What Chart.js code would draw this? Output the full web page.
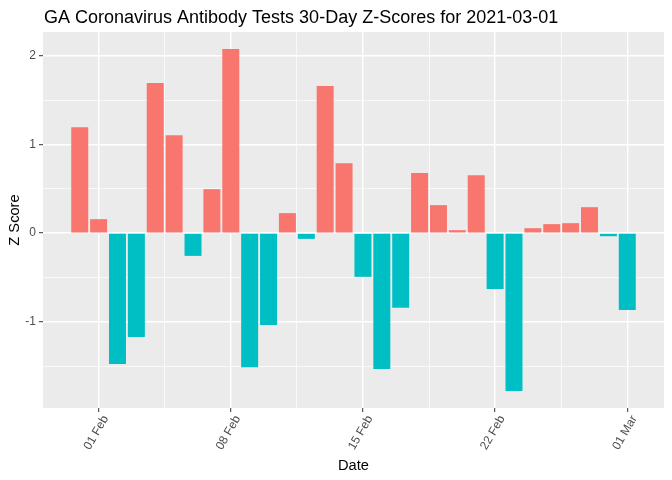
<!DOCTYPE html>
<html>
<head>
<meta charset="utf-8">
<script src="https://cdn.jsdelivr.net/npm/chart.js@4"></script>
<style>
  html, body { margin: 0; padding: 0; background: #ffffff; }
  #wrap { width: 672px; height: 480px; }
</style>
</head>
<body>
<div id="wrap"><canvas id="chart" width="672" height="480"></canvas></div>
<script>
const chartTitle = 'GA Coronavirus Antibody Tests 30-Day Z-Scores for 2021-03-01';

const dates = [
    '2021-01-31', '2021-02-01', '2021-02-02', '2021-02-03', '2021-02-04',
    '2021-02-05', '2021-02-06', '2021-02-07', '2021-02-08', '2021-02-09',
    '2021-02-10', '2021-02-11', '2021-02-12', '2021-02-13', '2021-02-14',
    '2021-02-15', '2021-02-16', '2021-02-17', '2021-02-18', '2021-02-19',
    '2021-02-20', '2021-02-21', '2021-02-22', '2021-02-23', '2021-02-24',
    '2021-02-25', '2021-02-26', '2021-02-27', '2021-02-28', '2021-03-01'
];
const zScores = [
    1.195, 0.158, -1.474, -1.169, 1.692,
    1.105, -0.256, 0.496, 2.075, -1.511,
    -1.034, 0.226, -0.064, 1.658, 0.789,
    -0.492, -1.530, -0.842, 0.677, 0.316,
    0.034, 0.654, -0.628, -1.778, 0.056,
    0.102, 0.113, 0.293, -0.034, -0.865
];

const tickDates = ['2021-02-01', '2021-02-08', '2021-02-15', '2021-02-22', '2021-03-01'];
const tickLabels = ['01 Feb', '08 Feb', '15 Feb', '22 Feb', '01 Mar'];
const yTicks = [-1, 0, 1, 2];

const POS_COLOR = '#F8766D';
const NEG_COLOR = '#00BFC4';
const FONT = '"Liberation Sans", Arial, sans-serif';

// days relative to the first labelled tick
const origin = Date.parse(tickDates[0]);
const toDay = (d) => (Date.parse(d) - origin) / 86400000;

const xs = dates.map(toDay);
const xTickValues = tickDates.map(toDay);

// ggplot style 5% expansion around bars (width 0.9)
const xLo = Math.min(...xs) - 0.45;
const xHi = Math.max(...xs) + 0.45;
const xPad = (xHi - xLo) * 0.05;
const yLo = Math.min(0, ...zScores);
const yHi = Math.max(0, ...zScores);
const yPad = (yHi - yLo) * 0.05;

// major ticks plus minor ones halfway between
function withMinors(majors) {
    const out = [];
    const step = majors[1] - majors[0];
    out.push(majors[0] - step / 2);
    majors.forEach((v) => {
        out.push(v);
        out.push(v + step / 2);
    });
    return out;
}
const xMajorSet = new Set(xTickValues);
const yMajorSet = new Set(yTicks);
const isMajor = (set, c) => !!(c.tick && set.has(c.tick.value));

const panelBg = {
    id: 'panelBg',
    beforeDraw(chart) {
        const { ctx, chartArea: a } = chart;
        ctx.save();
        ctx.fillStyle = '#EBEBEB';
        ctx.fillRect(a.left, a.top, a.right - a.left, a.bottom - a.top);
        ctx.restore();
    }
};

const plotTitle = {
    id: 'plotTitle',
    afterDraw(chart) {
        const { ctx, chartArea: a } = chart;
        ctx.save();
        ctx.fillStyle = '#000000';
        ctx.font = '18px ' + FONT;
        ctx.textAlign = 'left';
        ctx.textBaseline = 'alphabetic';
        ctx.fillText(chartTitle, a.left + 1, 22.5);
        ctx.restore();
    }
};

new Chart(document.getElementById('chart').getContext('2d'), {
    type: 'bar',
    data: {
        datasets: [{
            data: xs.map((x, i) => ({ x, y: zScores[i] })),
            backgroundColor: zScores.map((v) => (v >= 0 ? POS_COLOR : NEG_COLOR)),
            borderWidth: 0,
            barPercentage: 0.9,
            categoryPercentage: 1.0,
        }],
    },
    options: {
        responsive: false,
        animation: false,
        devicePixelRatio: 1,
        layout: { padding: { top: 32, right: 8, bottom: 0, left: 0 } },
        plugins: {
            legend: { display: false },
            tooltip: { enabled: false },
            title: { display: false },
        },
        scales: {
            x: {
                type: 'linear',
                offset: false,
                min: xLo - xPad,
                max: xHi + xPad,
                afterBuildTicks: (axis) => {
                    axis.ticks = withMinors(xTickValues)
                        .filter((v) => v >= axis.min && v <= axis.max)
                        .map((v) => ({ value: v }));
                },
                afterFit: (axis) => { axis.height = 72; },
                border: { display: false },
                grid: {
                    offset: false,
                    color: '#FFFFFF',
                    lineWidth: (c) => (isMajor(xMajorSet, c) ? 1.4 : 0.7),
                    tickColor: (c) => (isMajor(xMajorSet, c) ? '#333333' : 'rgba(0,0,0,0)'),
                    tickLength: 4,
                    tickWidth: 1,
                },
                ticks: {
                    autoSkip: false,
                    minRotation: 60,
                    maxRotation: 60,
                    padding: 1,
                    labelOffset: 7,
                    color: '#4D4D4D',
                    font: { family: FONT, size: 12 },
                    callback: (value) => {
                        const i = xTickValues.indexOf(value);
                        return i >= 0 ? tickLabels[i] : '';
                    },
                },
                title: {
                    display: true,
                    text: 'Date',
                    color: '#000000',
                    font: { family: FONT, size: 14.67 },
                    padding: { top: 0, bottom: 5 },
                },
            },
            y: {
                min: yLo - yPad,
                max: yHi + yPad,
                afterBuildTicks: (axis) => {
                    axis.ticks = withMinors(yTicks)
                        .filter((v) => v >= axis.min && v <= axis.max)
                        .map((v) => ({ value: v }));
                },
                afterFit: (axis) => { axis.width = 43; },
                border: { display: false },
                grid: {
                    color: '#FFFFFF',
                    lineWidth: (c) => (isMajor(yMajorSet, c) ? 1.4 : 0.7),
                    tickColor: (c) => (isMajor(yMajorSet, c) ? '#333333' : 'rgba(0,0,0,0)'),
                    tickLength: 4,
                    tickWidth: 1,
                },
                ticks: {
                    autoSkip: false,
                    padding: 3,
                    color: '#4D4D4D',
                    font: { family: FONT, size: 12 },
                    callback: (value) => (yMajorSet.has(value) ? String(value) : ''),
                },
                title: {
                    display: true,
                    text: 'Z Score',
                    color: '#000000',
                    font: { family: FONT, size: 14.67 },
                    padding: { top: 6, bottom: 0 },
                },
            },
        },
    },
    plugins: [panelBg, plotTitle],
});
</script>
</body>
</html>
